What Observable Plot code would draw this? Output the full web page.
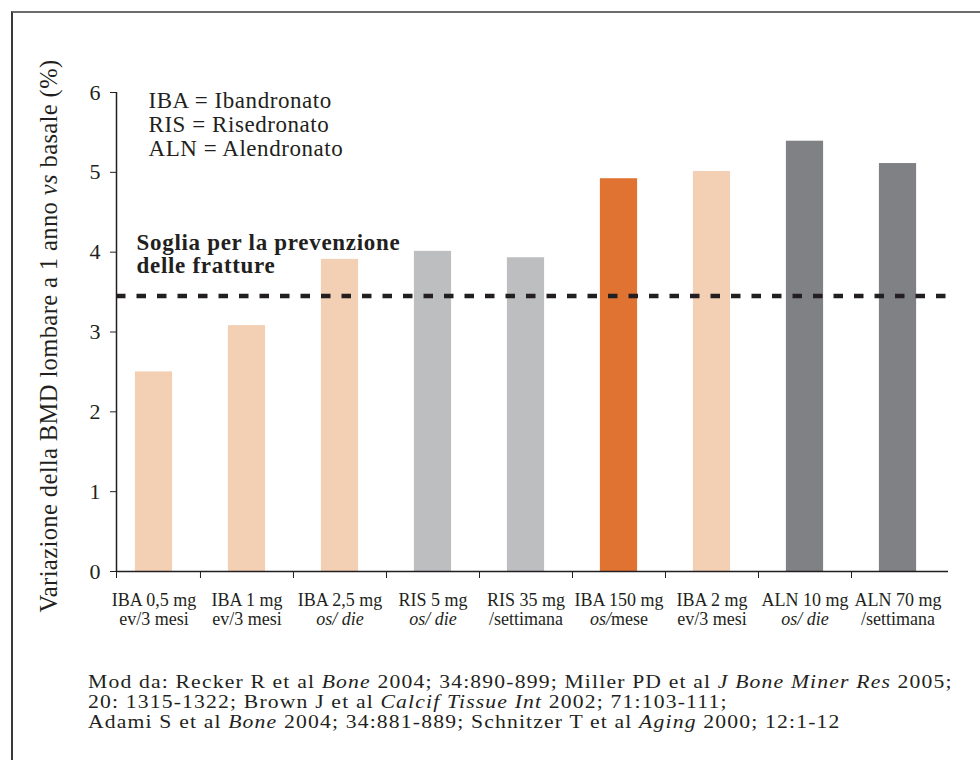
<!DOCTYPE html>
<html><head><meta charset="utf-8">
<script src="https://cdn.jsdelivr.net/npm/d3@7"></script>
<script src="https://cdn.jsdelivr.net/npm/@observablehq/plot@0.6"></script>
<style>
body{margin:0;background:#fff;width:980px;height:760px;position:relative;overflow:hidden;font-family:"Liberation Serif",serif;color:#231f20}
#frame{position:absolute;left:11px;top:11px;width:975px;height:760px;border-top:2px solid #6b6b6b;border-left:2px solid #3a3a3a}
#chart{position:absolute;left:0;top:0}
#caption{position:absolute;left:88px;top:672px;font-size:18.5px;line-height:20px;letter-spacing:1px;white-space:nowrap;transform:scaleX(1.17);transform-origin:0 0}
svg text{white-space:pre;font-family:"Liberation Serif",serif}
</style></head><body>
<div id="frame"></div>
<div id="chart"></div>
<div id="caption"></div>
<script>
// ---- data ----
const labelsLine1 = ["IBA 0,5 mg","IBA 1 mg","IBA 2,5 mg","RIS 5 mg","RIS 35 mg","IBA 150 mg","IBA 2 mg","ALN 10 mg","ALN 70 mg"];
const labelsLine2 = ["ev/3 mesi","ev/3 mesi","os/ die","os/ die","/settimana","os/mese","ev/3 mesi","os/ die","/settimana"];
const italicPart  = ["","","os/ die","os/ die","","os/","","os/ die",""];
const values      = [2.5, 3.08, 3.91, 4.01, 3.93, 4.92, 5.01, 5.39, 5.11];
const groups      = ["IBA","IBA","IBA","RIS","RIS","IBA 150","IBA","ALN","ALN"];
const groupNames  = ["IBA","RIS","IBA 150","ALN"];
const groupColors = ["#f3cfb3","#bcbec0","#e07232","#808184"];
const threshold   = 3.45;
const yTicks      = [0,1,2,3,4,5,6];
const legendLines = ["IBA = Ibandronato","RIS = Risedronato","ALN = Alendronato"];
const thresholdLabel = ["Soglia per la prevenzione","delle fratture"];
const yLabelParts = ["Variazione della BMD lombare a 1 anno ","vs"," basale (%)"];
const captionLines = [
  [["Mod da: Recker R et al ",0],["Bone",1],[" 2004; 34:890-899; Miller PD et al ",0],["J Bone Miner Res",1],[" 2005;",0]],
  [["20: 1315-1322; Brown J et al ",0],["Calcif Tissue Int",1],[" 2002; 71:103-111;",0]],
  [["Adami S et al ",0],["Bone",1],[" 2004; 34:881-889; Schnitzer T et al ",0],["Aging",1],[" 2000; 12:1-12",0]]
];

const data = labelsLine1.map((l1, i) => ({i, l1, l2: labelsLine2[i], value: values[i], group: groups[i]}));
const xStart = 0.097, xEnd = 9.043;
const edges = [xStart, 1, 2, 3, 4, 5, 6, 7, 8];
const ink = "#231f20";

const plot = Plot.plot({
  width: 980, height: 640,
  marginTop: 92, marginBottom: 69, marginLeft: 116, marginRight: 32,
  style: {background: "transparent", fontFamily: "Liberation Serif, serif", fontSize: "20px", color: ink},
  x: {type: "linear", domain: [xStart, xEnd]},
  y: {domain: [0, 6]},
  color: {domain: groupNames, range: groupColors},
  marks: [
    Plot.rectY(data, {x1: d => d.i + 0.3, x2: d => d.i + 0.7, y1: 0, y2: "value", fill: "group"}),
    Plot.ruleY([threshold], {stroke: ink, strokeWidth: 4.5, strokeDasharray: "9.5,11"}),
    Plot.ruleY([0], {stroke: ink, strokeWidth: 1.5}),
    Plot.ruleX([xStart], {y1: 0, y2: 6, stroke: ink, strokeWidth: 1.5}),
    Plot.axisY({ticks: yTicks, tickFormat: d => String(d), tickSize: 6, tickPadding: 10, fontSize: 22, label: null, stroke: ink, fill: ink}),
    Plot.axisX({ticks: edges, tickSize: 7, tickFormat: () => "", label: null, stroke: ink}),
    Plot.text(data, {x: d => d.i + 0.5, y: 0, text: "l1", dy: 34, lineAnchor: "bottom", fontSize: 18, fill: ink}),
    Plot.text(data, {x: d => d.i + 0.5, y: 0, text: "l2", dy: 53, lineAnchor: "bottom", fontSize: 18, fill: ink, ariaLabel: () => "xlabel2"}),
    Plot.text([legendLines.join("\n")], {x: 0.441, y: 6, text: d => d, textAnchor: "start", lineAnchor: "top", dy: -1, fontSize: 23, lineHeight: 1.04, fill: ink, ariaLabel: () => "legendtext"}),
    Plot.text([thresholdLabel.join("\n")], {x: 0.312, y: threshold, text: d => d, textAnchor: "start", lineAnchor: "bottom", dy: -23, fontSize: 23, fontWeight: "bold", lineHeight: 1.0, fill: ink, ariaLabel: () => "soglia"}),
    Plot.text([yLabelParts.join("")], {frameAnchor: "left", text: d => d, rotate: -90, dx: -67, dy: 4, textAnchor: "middle", lineAnchor: "middle", fontSize: 24.5, fill: ink, ariaLabel: () => "ylabel"})
  ]
});
document.getElementById("chart").appendChild(plot);

const ns = "http://www.w3.org/2000/svg";
// italic parts of second-line x labels
d3.select(plot).selectAll('text[aria-label="xlabel2"]').each(function(_, k) {
  const full = labelsLine2[k], it = italicPart[k];
  if (!it) return;
  this.textContent = "";
  const a = document.createElementNS(ns, "tspan");
  a.setAttribute("font-style", "italic"); a.style.fontStyle = "italic"; a.textContent = it; this.appendChild(a);
  const rest = full.slice(it.length);
  if (rest) { const b = document.createElementNS(ns, "tspan"); b.textContent = rest; this.appendChild(b); }
});
d3.select(plot).selectAll('text[aria-label="legendtext"]').attr("letter-spacing", 0.55);
d3.select(plot).selectAll('text[aria-label="soglia"]').attr("letter-spacing", 0.7);
d3.select(plot).selectAll('text[aria-label="ylabel"]').each(function() {
  this.textContent = "";
  this.setAttribute("letter-spacing", "0.4");
  yLabelParts.forEach((p, j) => {
    const t = document.createElementNS(ns, "tspan");
    if (j === 1) { t.setAttribute("font-style", "italic"); t.style.fontStyle = "italic"; }
    t.textContent = p; this.appendChild(t);
  });
});

// caption
const cap = document.getElementById("caption");
captionLines.forEach((line, li) => {
  line.forEach(([txt, ital]) => {
    const s = document.createElement(ital ? "i" : "span");
    s.textContent = txt; cap.appendChild(s);
  });
  if (li < captionLines.length - 1) cap.appendChild(document.createElement("br"));
});
</script>
</body></html>
